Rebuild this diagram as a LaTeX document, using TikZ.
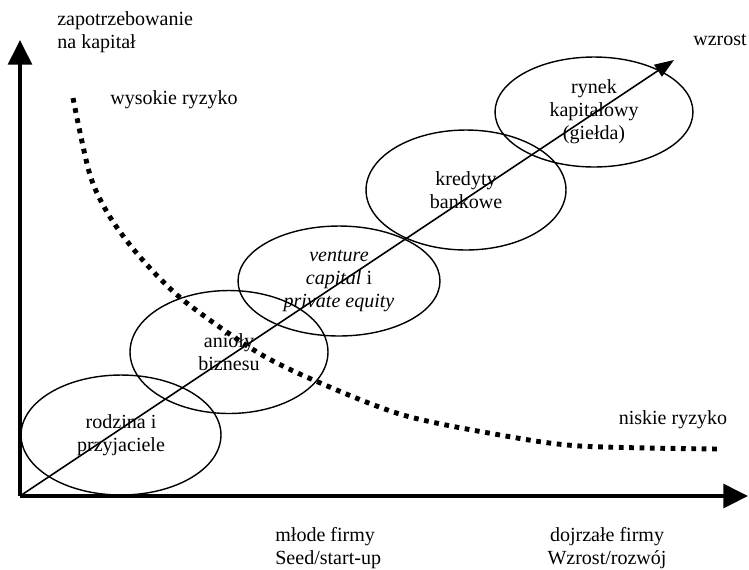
\documentclass[tikz,border=0pt]{standalone}
\usepackage{fontspec}
\setmainfont{Liberation Serif}
\usetikzlibrary{arrows.meta,shapes.geometric}
\begin{document}
\begin{tikzpicture}[x=0.02cm,y=-0.02cm,
    font=\fontsize{11.4}{13}\selectfont,
    faza/.style={ellipse,draw,line width=0.8pt,align=center,inner sep=0pt},
    opis/.style={align=center,inner sep=0pt},
    os/.style={line width=2pt,-{Triangle[length=14pt,width=13.5pt]}}]
  \useasboundingbox (0,0) rectangle (749,569);
  \coordinate (o) at (20,496);
  \coordinate (ytip) at (20,40);
  \coordinate (xtip) at (748,496);
  \coordinate (wtip) at (674,60);
  % zrodla kapitalu
  \node[faza,minimum width=4cm,minimum height=2.4cm] (rodzina) at (121,435) {rodzina i\\przyjaciele};
  \node[faza,minimum width=3.96cm,minimum height=2.46cm] (anioly) at (229,352) {anioły\\biznesu};
  \node[faza,minimum width=4.04cm,minimum height=2.2cm] (vc) at (339,281) {\textit{venture}\\\textit{capital} i\\\textit{private equity}};
  \node[faza,minimum width=4cm,minimum height=2.4cm] (kredyty) at (466,190) {kredyty\\bankowe};
  \node[faza,minimum width=3.96cm,minimum height=2.2cm] (gielda) at (594,112) {rynek\\kapitałowy\\(giełda)};
  % osie
  \draw[os] (o) -- (ytip);
  \draw[os] (o) -- (xtip);
  \draw[line width=0.9pt,-{Triangle[length=11pt,width=8pt]}] (o) -- (wtip);
  % ryzyko
  \draw[line width=2.8pt,dash pattern=on 2.7pt off 3.2pt] plot[smooth] coordinates
    {(73,98) (90,175) (110,217) (140,257) (183,300) (257,352) (318,382) (403,415) (500,435) (580,446) (718,449)};
  \node[opis,anchor=west,align=left] (popyt) at (57,32) {zapotrzebowanie\\na kapitał};
  \node[opis] (wzrost) at (720,40) {wzrost};
  \node[opis] (wysokie) at (174,100) {wysokie ryzyko};
  \node[opis] (niskie) at (673,420) {niskie ryzyko};
  \node[opis,anchor=west,align=left] (mlode) at (275,548) {młode firmy\\Seed/start-up};
  \node[opis] (dojrzale) at (607,548) {dojrzałe firmy\\Wzrost/rozwój};
\end{tikzpicture}
\end{document}
